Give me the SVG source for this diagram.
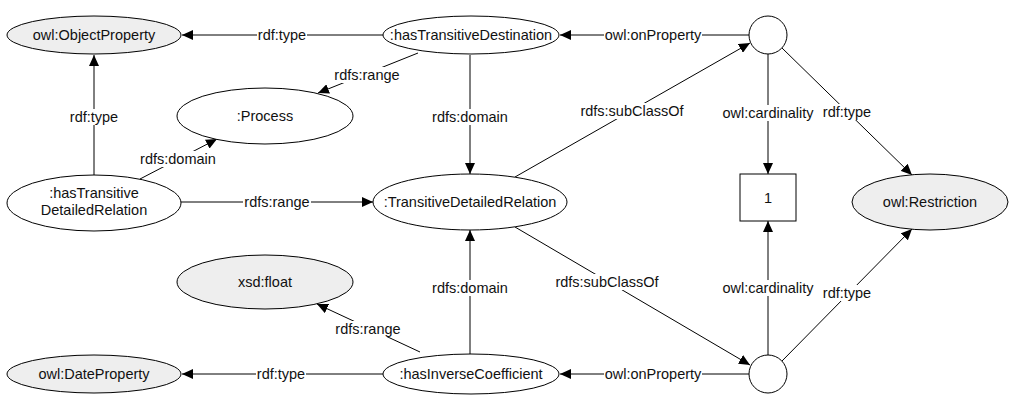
<svg xmlns="http://www.w3.org/2000/svg" width="1015" height="403" viewBox="0 0 1015 403">
<style>
text{font-family:"Liberation Sans",Arial,sans-serif;font-size:14.5px;fill:#111;text-anchor:middle}
.n{fill:#fff;stroke:#000;stroke-width:1}
.g{fill:#eeeeee;stroke:#000;stroke-width:1}
.e{stroke:#000;stroke-width:1;fill:none;marker-end:url(#ah)}
.bg{fill:#fff}
</style>
<defs>
<marker id="ah" markerUnits="userSpaceOnUse" markerWidth="12" markerHeight="10" refX="11" refY="5" orient="auto">
<path d="M0,0 L11,5 L0,10 z" fill="#000"/>
</marker>
</defs>
<rect width="1015" height="403" fill="#fff"/>
<g id="connectors">
<line class="e" x1="383" y1="35" x2="182" y2="35"/>
<line class="e" x1="94" y1="175" x2="94" y2="55"/>
<line class="e" x1="418" y1="53" x2="318" y2="93"/>
<line class="e" x1="140" y1="179" x2="217" y2="139"/>
<line class="e" x1="470" y1="55" x2="470" y2="174"/>
<line class="e" x1="181" y1="202" x2="373" y2="202"/>
<line class="e" x1="515" y1="177" x2="750" y2="43"/>
<line class="e" x1="749" y1="35" x2="560" y2="35"/>
<line class="e" x1="768" y1="54" x2="768" y2="174"/>
<line class="e" x1="782" y1="48" x2="912" y2="175"/>
<line class="e" x1="768" y1="355" x2="768" y2="221"/>
<line class="e" x1="782" y1="361" x2="912" y2="229"/>
<line class="e" x1="515" y1="227" x2="750" y2="365"/>
<line class="e" x1="470" y1="354" x2="470" y2="230"/>
<line class="e" x1="420" y1="352" x2="317" y2="304"/>
<line class="e" x1="383" y1="374" x2="182" y2="374"/>
<line class="e" x1="749" y1="374" x2="560" y2="374"/>
<g id="edge-labels">
<rect class="bg" x="257" y="27" width="50" height="16"/><text x="282" y="40">rdf:type</text>
<rect class="bg" x="69" y="109" width="50" height="16"/><text x="94" y="122">rdf:type</text>
<rect class="bg" x="333" y="67" width="68" height="16"/><text x="367" y="80">rdfs:range</text>
<rect class="bg" x="139" y="151" width="78" height="16"/><text x="178" y="164">rdfs:domain</text>
<rect class="bg" x="431" y="109" width="78" height="16"/><text x="470" y="122">rdfs:domain</text>
<rect class="bg" x="243" y="194" width="68" height="16"/><text x="277" y="207">rdfs:range</text>
<rect class="bg" x="579" y="103" width="106" height="16"/><text x="632" y="116">rdfs:subClassOf</text>
<rect class="bg" x="604" y="27" width="98" height="16"/><text x="653" y="40">owl:onProperty</text>
<rect class="bg" x="721" y="105" width="94" height="16"/><text x="768" y="118">owl:cardinality</text>
<rect class="bg" x="822" y="104" width="50" height="16"/><text x="847" y="117">rdf:type</text>
<rect class="bg" x="721" y="280" width="94" height="16"/><text x="768" y="293">owl:cardinality</text>
<rect class="bg" x="822" y="285" width="50" height="16"/><text x="847" y="298">rdf:type</text>
<rect class="bg" x="554" y="274" width="106" height="16"/><text x="607" y="287">rdfs:subClassOf</text>
<rect class="bg" x="431" y="280" width="78" height="16"/><text x="470" y="293">rdfs:domain</text>
<rect class="bg" x="334" y="321" width="68" height="16"/><text x="368" y="334">rdfs:range</text>
<rect class="bg" x="256" y="366" width="50" height="16"/><text x="281" y="379">rdf:type</text>
<rect class="bg" x="604" y="366" width="98" height="16"/><text x="653" y="379">owl:onProperty</text>
</g>
</g>
<g id="owl-ObjectProperty"><ellipse class="g" cx="94" cy="35" rx="87" ry="19"/><text x="94" y="40">owl:ObjectProperty</text></g>
<g id="hasTransitiveDestination"><ellipse class="n" cx="471" cy="35" rx="88" ry="19"/><text x="471" y="40">:hasTransitiveDestination</text></g>
<g id="restriction-top"><circle class="n" cx="768" cy="35" r="19"/></g>
<g id="Process"><ellipse class="n" cx="265" cy="116" rx="88" ry="28"/><text x="265" y="121">:Process</text></g>
<g id="hasTransitiveDetailedRelation"><ellipse class="n" cx="94" cy="203" rx="87" ry="28"/><text x="94" y="198">:hasTransitive</text><text x="94" y="215">DetailedRelation</text></g>
<g id="TransitiveDetailedRelation"><ellipse class="n" cx="470" cy="202" rx="97" ry="28"/><text x="470" y="207">:TransitiveDetailedRelation</text></g>
<g id="literal-1"><rect class="n" x="740" y="174" width="56" height="47"/><text x="768" y="203">1</text></g>
<g id="owl-Restriction"><ellipse class="g" cx="930" cy="202" rx="78" ry="28"/><text x="930" y="207">owl:Restriction</text></g>
<g id="xsd-float"><ellipse class="g" cx="265" cy="282" rx="88" ry="27"/><text x="265" y="287">xsd:float</text></g>
<g id="owl-DateProperty"><ellipse class="g" cx="94" cy="374" rx="87" ry="19"/><text x="94" y="379">owl:DateProperty</text></g>
<g id="hasInverseCoefficient"><ellipse class="n" cx="471" cy="374" rx="88" ry="20"/><text x="471" y="379">:hasInverseCoefficient</text></g>
<g id="restriction-bottom"><circle class="n" cx="768" cy="374" r="19"/></g>
</svg>
